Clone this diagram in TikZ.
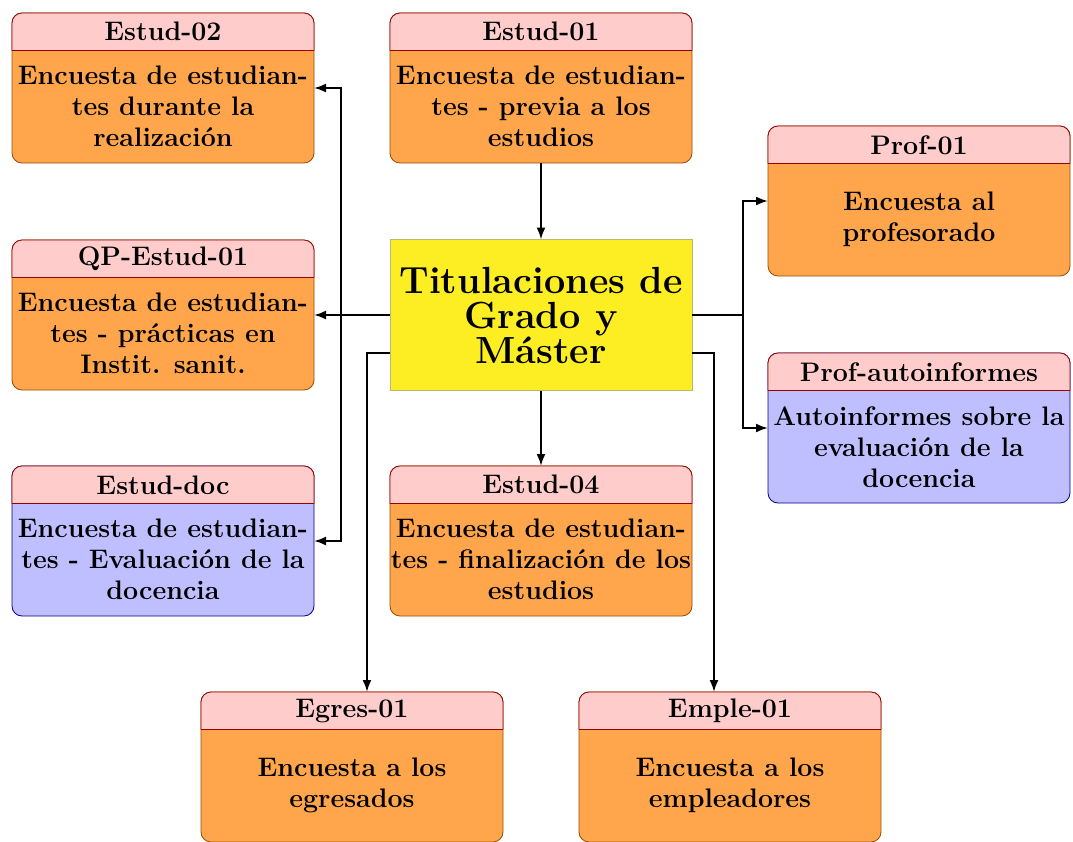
\documentclass[tikz,border=0pt]{standalone}
\usetikzlibrary{calc,arrows.meta}

\definecolor{amarillo}{RGB}{253,238,35}
\tikzset{
    caja/.style={draw=orange!60!black, fill=orange!70, rounded corners=5pt, outer sep=0pt,
        minimum width=151pt, minimum height=75pt, anchor=north west, inner sep=0pt},
    cajaazul/.style={draw=blue!55!black, fill=blue!25},
    cabecera/.style={fill=red!20},
    borde/.style={draw=red!60!black},
    texto/.style={align=center, inner sep=0pt, font=\fontsize{13.4}{15.5}\selectfont\bfseries},
    flecha/.style={line width=1pt,-{Latex[length=6pt,width=4.5pt]}},
}
\newcommand{\encuesta}[5]{%
    \node[caja,#5] (#1) at (#2) {};
    \begin{scope}
        \clip[rounded corners=5pt] (#1.south west) rectangle (#1.north east);
        \fill[cabecera] (#1.north west) rectangle ([yshift=-18.75pt]#1.north east);
    \end{scope}
    \draw[borde,rounded corners=5pt] ([yshift=-18.75pt]#1.north west) -- (#1.north west)
        -- (#1.north east) -- ([yshift=-18.75pt]#1.north east);
    \draw[borde] ([yshift=-18.75pt]#1.north west) -- ([yshift=-18.75pt]#1.north east);
    \node[texto] (#1-t) at ([yshift=-9.4pt]#1.north) {#3};
    \node[texto] (#1-c) at ($([yshift=-18.75pt]#1.north)!0.5!(#1.south)$) {#4};
}

\begin{document}
\begin{tikzpicture}[x=0.5pt, y=-0.5pt]
    \useasboundingbox (0,0) rectangle (1073,842);

    \encuesta{e02}{12,13}{Estud-02}{Encuesta de estudian-\\tes durante la\\realización}{}
    \encuesta{e01}{390,13}{Estud-01}{Encuesta de estudian-\\tes - previa a los\\estudios}{}
    \encuesta{p01}{768,126}{Prof-01}{Encuesta al\\profesorado}{}
    \encuesta{qp}{12,240}{QP-Estud-01}{Encuesta de estudian-\\tes - prácticas en\\Instit. sanit.}{}
    \encuesta{paut}{768,353}{Prof-autoinformes}{Autoinformes sobre la\\evaluación de la\\docencia}{cajaazul}
    \encuesta{edoc}{12,466}{Estud-doc}{Encuesta de estudian-\\tes - Evaluación de la\\docencia}{cajaazul}
    \encuesta{e04}{390,466}{Estud-04}{Encuesta de estudian-\\tes - finalización de los\\estudios}{}
    \encuesta{egr}{201,692}{Egres-01}{Encuesta a los\\egresados}{}
    \encuesta{emp}{579,692}{Emple-01}{Encuesta a los\\empleadores}{}

    \node[draw=yellow!40!gray, fill=amarillo, minimum width=151pt, minimum height=75.5pt,
        inner sep=0pt, outer sep=0pt, align=center, font=\fontsize{18.9}{17.5}\selectfont\bfseries]
        (tit) at (541,315) {Titulaciones de\\Grado y\\Máster};

    \draw[flecha] (e01.south) -- (tit.north);
    \draw[flecha] (tit.south) -- (e04.north);
    \draw[flecha] (tit.west) -- (qp.east);

    \coordinate (ramaizq) at ([xshift=13.5pt]qp.east);
    \draw[flecha] (ramaizq) |- (e02.east);
    \draw[flecha] (ramaizq) |- (edoc.east);

    \coordinate (ramader) at ([xshift=25.5pt]tit.east);
    \draw[line width=1pt] (tit.east) -- (ramader);
    \draw[flecha] (ramader) |- (p01.west);
    \draw[flecha] (ramader) |- (paut.west);

    \coordinate (bajaizq) at ([xshift=-11.5pt,yshift=-19pt]tit.west);
    \draw[flecha] ([yshift=-19pt]tit.west) -- (bajaizq) -- (bajaizq |- egr.north);
    \coordinate (bajader) at ([xshift=11pt,yshift=-19pt]tit.east);
    \draw[flecha] ([yshift=-19pt]tit.east) -- (bajader) -- (bajader |- emp.north);
\end{tikzpicture}
\end{document}
